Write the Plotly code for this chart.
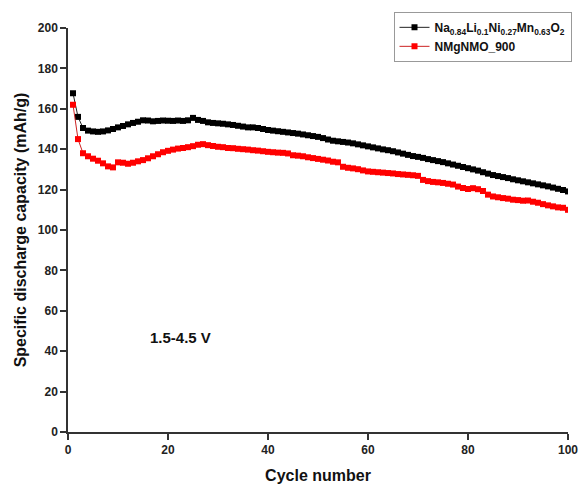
import plotly.graph_objects as go

cycles = list(range(1, 101))

black_vals = [167.7, 156.0, 150.5, 149.2, 148.8, 148.6, 148.8, 149.3, 150.0, 150.8,
              151.5, 152.3, 153.0, 153.6, 154.3, 154.2, 153.8, 154.0, 154.2, 154.1,
              154.0, 154.2, 154.0, 154.3, 155.5, 154.5, 154.0, 153.3, 153.0, 152.8,
              152.6, 152.3, 152.0, 151.6, 151.2, 150.8, 150.8, 150.5, 150.0, 149.5,
              149.2, 148.9, 148.6, 148.3, 148.0, 147.7, 147.3, 146.9, 146.5, 146.1,
              145.5, 144.8, 144.2, 143.9, 143.6, 143.3, 142.9, 142.4, 141.9, 141.4,
              140.9, 140.4, 139.9, 139.5, 139.0, 138.4, 137.8, 137.2, 136.6, 136.2,
              135.7, 135.1, 134.6, 134.1, 133.6, 133.0, 132.4, 131.8, 131.2, 130.6,
              130.0, 129.4, 128.6, 127.9, 127.2, 126.7, 126.2, 125.7, 125.1, 124.6,
              124.1, 123.6, 123.1, 122.6, 122.1, 121.6, 121.0, 120.4, 119.8, 119.1]

red_vals = [162.0, 145.0, 138.0, 136.5, 135.3, 134.3, 133.0, 131.5, 131.0, 133.5,
            133.3, 132.8, 133.3, 134.0, 134.6, 135.5, 136.5, 137.5, 138.5, 139.2,
            139.8, 140.3, 140.6, 141.0, 141.5, 142.2, 142.5, 142.0, 141.6, 141.2,
            141.0, 140.6, 140.5, 140.2, 140.0, 139.8, 139.5, 139.3, 139.0, 138.7,
            138.5, 138.3, 138.2, 137.9, 137.0, 136.8, 136.5, 136.0, 135.6, 135.2,
            134.8, 134.4, 133.8, 133.5, 131.3, 130.8, 130.5, 130.1, 129.5, 129.0,
            128.8, 128.6, 128.4, 128.2, 128.0, 127.7, 127.5, 127.3, 127.1, 126.8,
            124.8, 124.2, 123.8, 123.6, 123.3, 122.9, 122.5, 121.5, 120.8, 120.3,
            120.7, 120.2, 119.3, 117.5, 116.6, 116.2, 115.8, 115.5, 115.0, 114.8,
            114.5, 114.6, 114.0, 113.5, 112.8, 112.2, 111.7, 111.2, 111.0, 110.0]

name_black = "<b>Na<sub>0.84</sub>Li<sub>0.1</sub>Ni<sub>0.27</sub>Mn<sub>0.63</sub>O<sub>2</sub></b>"
name_red = "<b>NMgNMO_900</b>"
x_ticks = [0, 20, 40, 60, 80, 100]
y_ticks = [0, 20, 40, 60, 80, 100, 120, 140, 160, 180, 200]

FONT = "Arial, Liberation Sans, sans-serif"

fig = go.Figure()
fig.add_trace(go.Scatter(x=cycles, y=black_vals, name=name_black, mode="lines+markers",
                         line=dict(color="#222222", width=1),
                         marker=dict(symbol="square", size=6, color="black")))
fig.add_trace(go.Scatter(x=cycles, y=red_vals, name=name_red, mode="lines+markers",
                         line=dict(color="#cc2222", width=1),
                         marker=dict(symbol="square", size=6, color="#ff0000")))

axis_common = dict(showline=True, linecolor="#333333", linewidth=1.5, ticks="outside",
                   ticklen=6, tickwidth=1.5, tickcolor="#333333", showgrid=False,
                   zeroline=False, mirror=False,
                   tickfont=dict(family=FONT, size=12, color="#222222", weight="bold"))

fig.update_xaxes(range=[0, 100], tickvals=x_ticks,
                 title=dict(text="<b>Cycle number</b>", font=dict(family=FONT, size=16, color="#111111"), standoff=14),
                 **axis_common)
fig.update_yaxes(range=[0, 200], tickvals=y_ticks,
                 title=dict(text="<b>Specific discharge capacity (mAh/g)</b>", font=dict(family=FONT, size=16, color="#111111"), standoff=7),
                 **axis_common)

fig.add_annotation(x=22.5, y=47, text="<b>1.5-4.5 V</b>", showarrow=False,
                   font=dict(family=FONT, size=15, color="#111111"))

fig.update_layout(
    width=579, height=486,
    margin=dict(l=68, r=11, t=28, b=54, autoexpand=False),
    plot_bgcolor="white", paper_bgcolor="white",
    font=dict(family=FONT, size=12, color="#111111"),
    legend=dict(x=0.651, y=1.04, xanchor="left", yanchor="top",
                bgcolor="white", bordercolor="#999999", borderwidth=1,
                font=dict(family=FONT, size=12, color="#111111"),
                tracegroupgap=0, itemwidth=30, traceorder="normal"),
    showlegend=True,
)

fig.write_html("out.html")
